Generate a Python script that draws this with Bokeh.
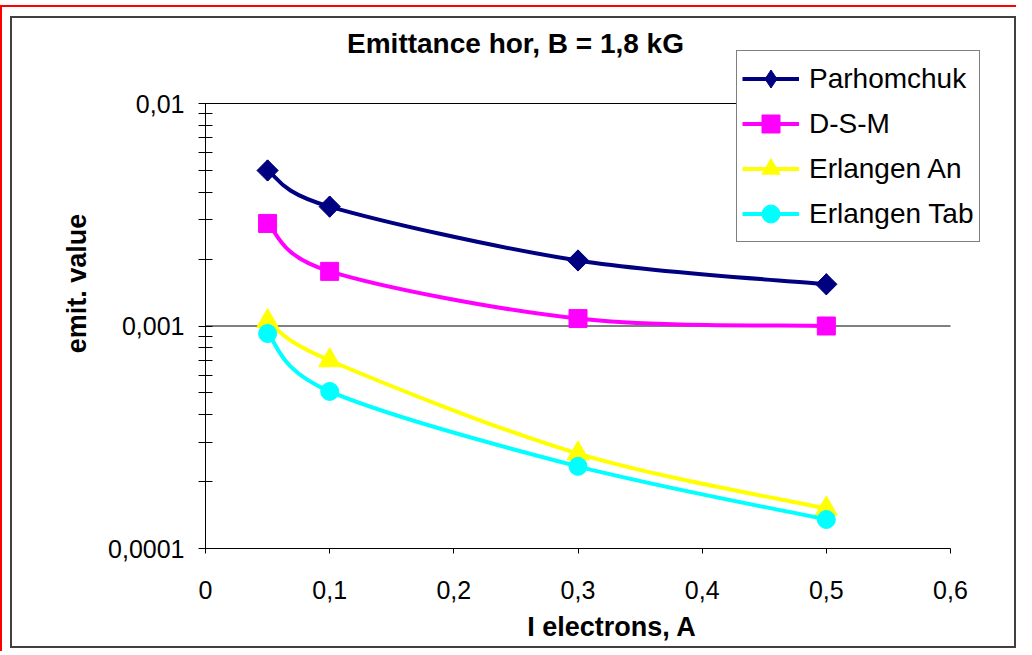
import numpy as np
from bokeh.plotting import figure
from bokeh.models import (FixedTicker, CustomJSTickFormatter, Legend, LegendItem,
                          Label, Range1d)
from bokeh.embed import file_html
from bokeh.resources import INLINE

# ---- data ----
current_a = [0.05, 0.1, 0.3, 0.5]
parhomchuk = [0.0050, 0.00344, 0.00197, 0.00154]
dsm = [0.00289, 0.00176, 0.00108, 0.00100]
erlangen_an = [0.00105, 0.00070, 0.000267, 0.000151]
erlangen_tab = [0.000925, 0.000508, 0.000234, 0.000135]
series_names = ["Parhomchuk", "D-S-M", "Erlangen An", "Erlangen Tab"]
x_ticks = [0, 0.1, 0.2, 0.3, 0.4, 0.5, 0.6]
y_ticks = [0.0001, 0.001, 0.01]
title_text = "Emittance hor, B = 1,8 kG"

FONT = "Liberation Sans"

# ---- layout (pixels inside the canvas) ----
CW, CH = 1006, 632             # canvas size
F_LEFT, F_BOTTOM = 193, 102    # frame insets (frame reaches canvas top/right)
AREA_W, AREA_H = 745, 445      # size of the 0..0.6 x 1e-4..1e-2 plot area
frame_w = CW - F_LEFT
frame_h = CH - F_BOTTOM
x_lo, x_hi = x_ticks[0], x_ticks[-1]
ly_lo, ly_hi = np.log10(y_ticks[0]), np.log10(y_ticks[-1])
px_per_x = AREA_W / (x_hi - x_lo)
px_per_dec = AREA_H / (ly_hi - ly_lo)
x_end = x_lo + frame_w / px_per_x
y_end = 10 ** (ly_lo + frame_h / px_per_dec)

p = figure(width=CW, height=CH, output_backend="svg", toolbar_location=None,
           y_axis_type="log", x_range=Range1d(x_lo, x_end), y_range=Range1d(y_ticks[0], y_end),
           min_border_left=F_LEFT, min_border_right=0, min_border_top=0,
           min_border_bottom=F_BOTTOM)
p.outline_line_color = None
p.background_fill_color = "white"
p.border_fill_color = "white"
# grey chart-area frame; red edge lines (left and top of the page) drawn as
# layered box shadows (white ones on top mask everything but two thin strips)
p.styles = {
    "border": "2px solid #404040", "margin-left": "10px", "margin-top": "16px",
    "box-shadow": ("-8px -9px 0 0 white, -8px 3px 0 0 white, 2px -9px 0 0 white, "
                   "-10px -11px 0 0 red, -10px 3px 0 0 red, 0px -11px 0 0 red"),
}

# axes
fmt = CustomJSTickFormatter(code="return tick.toString().replace('.', ',');")
xa = p.xaxis[0]
xa.ticker = FixedTicker(ticks=x_ticks)
xa.bounds = (x_lo, x_hi)
xa.formatter = fmt
xa.major_tick_in = 0
xa.major_tick_out = 5
xa.minor_tick_in = 0
xa.minor_tick_out = 0
xa.major_label_text_font = FONT
xa.major_label_text_font_size = "25px"
xa.major_label_text_color = "black"
xa.major_label_standoff = 27
xa.axis_label = "I electrons, A"
xa.axis_label_text_font = FONT
xa.axis_label_text_font_size = "27px"
xa.axis_label_text_font_style = "bold"
xa.axis_label_text_color = "black"
xa.axis_label_standoff = 10
xa.axis_line_color = "black"
xa.major_tick_line_color = "black"

minor = [m * t for t in y_ticks[:-1] for m in range(2, 10)]
ya = p.yaxis[0]
ya.ticker = FixedTicker(ticks=y_ticks, minor_ticks=minor)
ya.bounds = (y_ticks[0], y_ticks[-1])
ya.formatter = fmt
ya.major_tick_in = 7
ya.major_tick_out = 7
ya.minor_tick_in = 7
ya.minor_tick_out = 7
ya.minor_tick_line_color = "black"
ya.major_tick_line_color = "black"
ya.major_label_text_font = FONT
ya.major_label_text_font_size = "25px"
ya.major_label_text_color = "black"
ya.major_label_standoff = 14
ya.axis_label = "emit. value"
ya.axis_label_text_font = FONT
ya.axis_label_text_font_size = "27px"
ya.axis_label_text_font_style = "bold"
ya.axis_label_text_color = "black"
ya.axis_label_standoff = 13
ya.axis_line_color = "black"

p.xgrid.grid_line_color = None
p.ygrid.grid_line_color = None

# horizontal major gridlines across the plot area only
grid_y = y_ticks[1:]
p.segment(x0=[x_lo] * len(grid_y), x1=[x_hi] * len(grid_y), y0=grid_y, y1=grid_y,
          line_color="black", line_width=1)


def smooth(xs, ys):
    """Excel-like smoothed line: Catmull-Rom converted to cubic Bezier control points
    (computed in x / log10(y) space, which is affine to screen space)."""
    x = np.asarray(xs, float)
    ly = np.log10(np.asarray(ys, float))
    n = len(x)
    xp = np.concatenate([[x[0]], x, [x[-1]]])
    yp = np.concatenate([[ly[0]], ly, [ly[-1]]])
    cx0 = xp[1:n] + (xp[2:n + 1] - xp[0:n - 1]) / 6
    cy0 = yp[1:n] + (yp[2:n + 1] - yp[0:n - 1]) / 6
    cx1 = xp[2:n + 1] - (xp[3:n + 2] - xp[1:n]) / 6
    cy1 = yp[2:n + 1] - (yp[3:n + 2] - yp[1:n]) / 6
    return dict(x0=x[:-1], y0=10 ** ly[:-1], x1=x[1:], y1=10 ** ly[1:],
                cx0=cx0, cy0=10 ** cy0, cx1=cx1, cy1=10 ** cy1)


# (values, colour, marker in plot, marker used for the legend swatch)
styles = [
    (parhomchuk, "#000080", dict(marker="square", angle=np.pi / 4, size=15),
     dict(marker="diamond", size=21)),
    (dsm, "#FF00FF", dict(marker="square", size=18), None),
    (erlangen_an, "#FFFF00", dict(marker="triangle", size=22), None),
    (erlangen_tab, "#00FFFF", dict(marker="circle", size=18), None),
]

items = []
for name, (vals, col, mk, legend_mk) in zip(series_names, styles):
    seg = smooth(current_a, vals)
    br = p.bezier(line_color=col, line_width=4, **seg)
    lr = None
    if legend_mk is not None:
        # diamond swatch for the legend (legend glyphs are never rotated); it sits
        # entirely underneath the rotated square drawn next
        lr = p.scatter(current_a, vals, fill_color=col, line_color=col, **legend_mk)
    sr = p.scatter(current_a, vals, fill_color=col, line_color=col, **mk)
    items.append(LegendItem(label=name, renderers=[br, lr if lr is not None else sr]))

legend = Legend(items=items, location=(531, 306))
legend.label_text_font = FONT
legend.label_text_font_size = "28px"
legend.label_text_color = "black"
legend.glyph_width = 57
legend.glyph_height = 45
legend.label_height = 45
legend.label_standoff = 10
legend.padding = 5
legend.spacing = 0
legend.margin = 0
legend.border_line_color = "black"
legend.border_line_width = 1
legend.background_fill_color = "white"
legend.background_fill_alpha = 1
p.add_layout(legend, "center")

# chart title, centred over the whole chart area (inside the extended frame)
title_cx, title_cy = CW / 2, 25
p.add_layout(Label(x=x_lo + (title_cx - F_LEFT) / px_per_x,
                   y=10 ** (ly_lo + (frame_h - title_cy) / px_per_dec),
                   text=title_text, text_align="center", text_baseline="middle",
                   text_font=FONT, text_font_size="28px", text_font_style="bold",
                   text_color="black"))

open("out.html", "w").write(file_html(p, INLINE))
